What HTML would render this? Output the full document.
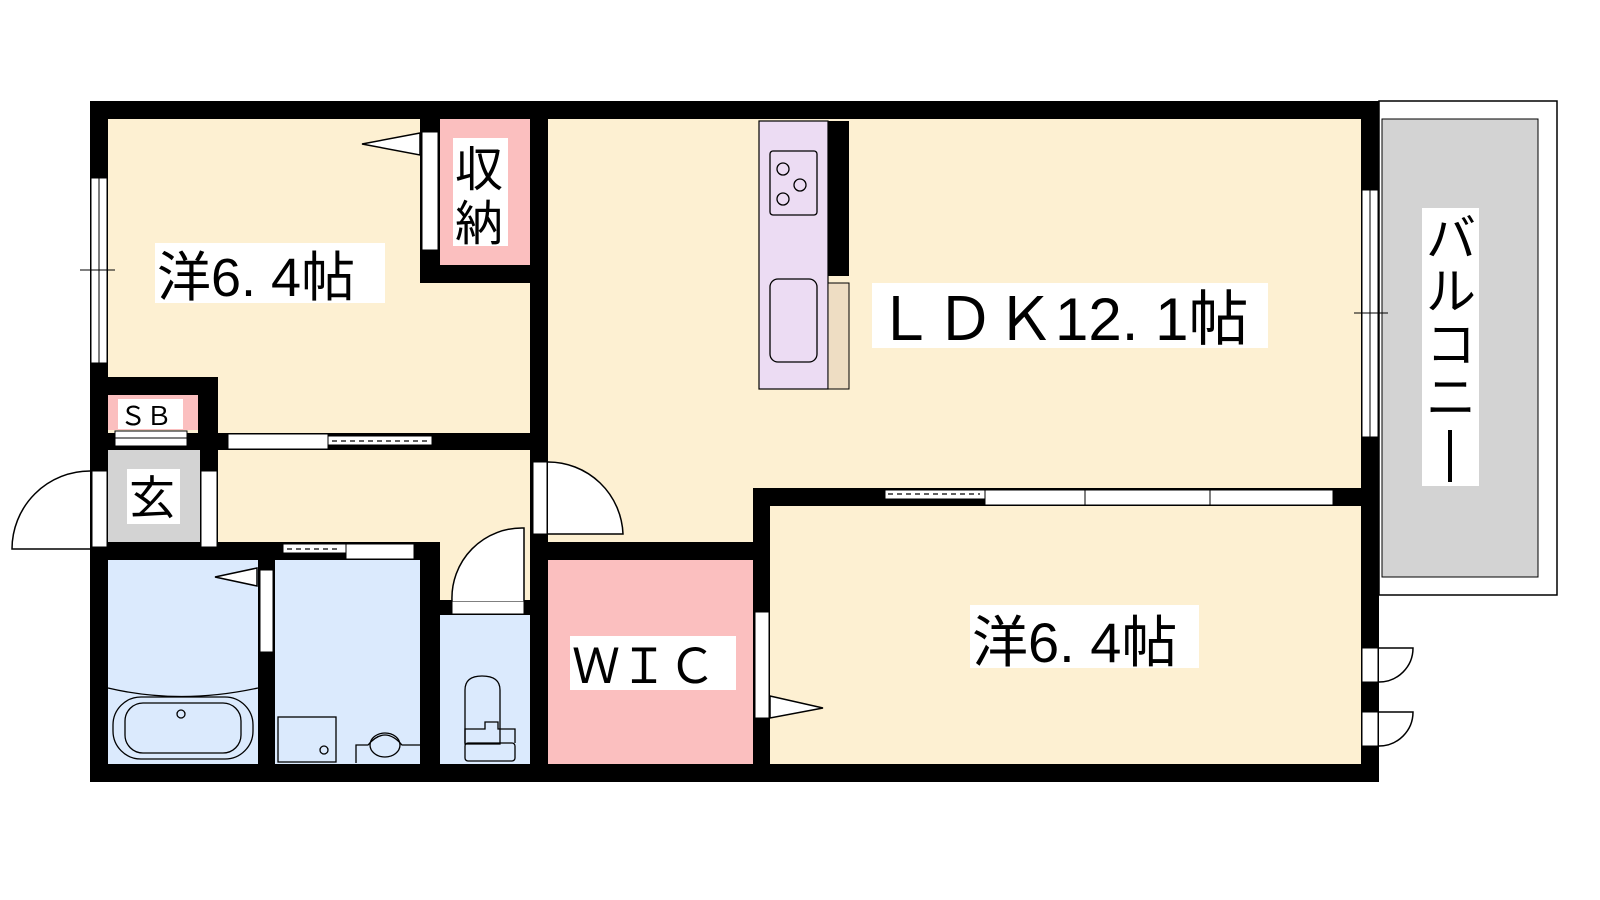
<!DOCTYPE html>
<html><head><meta charset="utf-8"><style>
html,body{margin:0;padding:0;background:#fff;}
svg{display:block;}
text{font-family:"Liberation Sans","Noto Sans CJK JP",sans-serif;fill:#000;}
</style></head><body>
<svg width="1600" height="900" viewBox="0 0 1600 900" xmlns="http://www.w3.org/2000/svg">
<!-- balcony -->
<rect x="1379" y="101" width="178" height="494" fill="#fff" stroke="#000" stroke-width="1.5"/>
<rect x="1382" y="119" width="156" height="458" fill="#d3d3d3" stroke="#000" stroke-width="1"/>
<!-- outer black base -->
<rect x="90" y="101" width="1289" height="681" fill="#000"/>
<!-- rooms -->
<rect x="108" y="119" width="422" height="314" fill="#fdf0d2"/>
<rect x="440" y="119" width="90" height="146" fill="#fbbfbf"/>
<rect x="108" y="395" width="90" height="35" fill="#fbbfbf"/>
<rect x="108" y="450" width="92" height="92" fill="#d3d3d3"/>
<rect x="218" y="450" width="312" height="92" fill="#fdf0d2"/>
<rect x="440" y="540" width="90" height="60" fill="#fdf0d2"/>
<rect x="108" y="560" width="150" height="204" fill="#dbeafd"/>
<rect x="275" y="560" width="145" height="204" fill="#dbeafd"/>
<rect x="440" y="615" width="90" height="149" fill="#dbeafd"/>
<rect x="548" y="119" width="813" height="423" fill="#fdf0d2"/>
<rect x="548" y="119" width="205" height="423" fill="#fdf0d2"/>
<rect x="753" y="119" width="608" height="369" fill="#fdf0d2"/>
<rect x="548" y="560" width="205" height="204" fill="#fbbfbf"/>
<rect x="770" y="506" width="591" height="258" fill="#fdf0d2"/>
<!-- closet walls fill -->
<rect x="420" y="119" width="20" height="164" fill="#000"/>
<rect x="420" y="265" width="110" height="18" fill="#000"/>
<!-- SB wall -->
<rect x="108" y="377" width="110" height="18" fill="#000"/>
<rect x="198" y="377" width="20" height="70" fill="#000"/>
<!-- hall partition -->
<rect x="198" y="433" width="350" height="17" fill="#000"/>
<rect x="200" y="450" width="18" height="92" fill="#000"/>
<rect x="530" y="433" width="18" height="331" fill="#000"/>
<rect x="258" y="560" width="17" height="204" fill="#000"/>
<rect x="420" y="542" width="20" height="222" fill="#000"/>
<rect x="440" y="600" width="90" height="15" fill="#000"/>
<rect x="530" y="542" width="240" height="18" fill="#000"/>
<rect x="753" y="488" width="17" height="276" fill="#000"/>
<rect x="753" y="488" width="608" height="18" fill="#000"/>
<rect x="90" y="542" width="350" height="18" fill="#000"/>
<!-- windows -->
<g fill="#fff" stroke="#000" stroke-width="1">
<rect x="91" y="178" width="16" height="185"/><line x1="99" y1="178" x2="99" y2="363"/>
<line x1="80" y1="270" x2="115" y2="270"/>
<rect x="1362" y="190" width="16" height="247"/><line x1="1370" y1="190" x2="1370" y2="437"/>
<line x1="1354" y1="313" x2="1388" y2="313"/>
<rect x="422" y="132" width="16" height="118"/>
<rect x="228" y="434" width="100" height="15"/><rect x="328" y="436" width="104" height="9"/>
<rect x="115" y="431" width="72" height="15"/><line x1="115" y1="438" x2="187" y2="438"/>
<rect x="92" y="471" width="15" height="76"/>
<rect x="201" y="471" width="16" height="76"/>
<rect x="533" y="462" width="14" height="72"/>
<rect x="283" y="544" width="63" height="9"/><rect x="346" y="544" width="68" height="15"/>
<rect x="452" y="601" width="72" height="13"/>
<rect x="260" y="570" width="13" height="82"/>
<rect x="755" y="612" width="14" height="106"/>
<rect x="885" y="490" width="100" height="9"/><rect x="985" y="490" width="100" height="15"/>
<rect x="1085" y="490" width="125" height="15"/><rect x="1210" y="490" width="123" height="15"/>
<rect x="1362" y="648" width="16" height="34"/><rect x="1362" y="712" width="16" height="34"/>
</g>
<g fill="none" stroke="#000" stroke-width="1.3" stroke-dasharray="5,4">
<line x1="332" y1="441" x2="430" y2="441"/><line x1="287" y1="549" x2="340" y2="549"/><line x1="888" y1="494" x2="980" y2="494"/>
</g>
<!-- doors -->
<g fill="#fff" stroke="#000" stroke-width="1.5">
<path d="M90 471 A78 78 0 0 0 12 549 L90 549"/>
<path d="M548 462 A75 75 0 0 1 623 534 L548 534"/>
<path d="M524 601 L524 528 A70 70 0 0 0 452 601"/>
<path d="M1379 648 L1413 648 A34 34 0 0 1 1379 682"/>
<path d="M1379 712 L1413 712 A34 34 0 0 1 1379 746"/>
<path d="M420 133 L362 144 L420 155 Z"/>
<path d="M257 568 L215 577 L257 586 Z"/>
<path d="M770 696 L823 708 L770 718 Z"/>
</g>
<!-- kitchen -->
<rect x="759" y="121" width="69" height="268" fill="#ecdcf3" stroke="#000" stroke-width="1.2"/>
<rect x="828" y="121" width="21" height="155" fill="#000"/>
<rect x="828" y="283" width="21" height="106" fill="#eeddc3" stroke="#000" stroke-width="1"/>
<g fill="none" stroke="#000" stroke-width="1.3">
<rect x="770" y="151" width="47" height="64" rx="3"/>
<circle cx="783" cy="169" r="6"/><circle cx="800" cy="185" r="6"/><circle cx="783" cy="199" r="6"/>
<rect x="770" y="279" width="47" height="83" rx="8"/>
<!-- bath -->
<path d="M108 688 Q180 705 258 688"/>
<rect x="113" y="697" width="140" height="62" rx="28"/>
<rect x="125" y="703" width="116" height="50" rx="18"/>
<circle cx="181" cy="714" r="4"/>
<rect x="278" y="717" width="58" height="45"/><circle cx="324" cy="750" r="4"/>
<path d="M356 763 L356 745 L368 745 Q385 725 402 745 L420 745"/>
<ellipse cx="385" cy="745" rx="15" ry="12"/>
<path d="M465 744 L465 690 Q465 676 482 676 Q500 676 500 690 L500 744 Z"/>
<rect x="465" y="743" width="50" height="18" rx="3"/>
<path d="M465 743 L465 729 L485 729 L485 722 L498 722 L498 729 L515 729 L515 743"/>
</g>
<!-- labels -->
<rect x="155" y="243" width="230" height="60" fill="#fff"/>
<text x="157" y="296" font-size="54">洋6. 4帖</text>
<rect x="453" y="138" width="55" height="108" fill="#fff"/>
<text x="455" y="186" font-size="48">収</text><text x="455" y="240" font-size="48">納</text>
<rect x="118" y="399" width="65" height="30" fill="#fff"/>
<text x="120" y="425" font-size="26">ＳＢ</text>
<rect x="127" y="469" width="53" height="55" fill="#fff"/>
<text x="129" y="514" font-size="46">玄</text>
<rect x="872" y="283" width="396" height="65" fill="#fff"/>
<text x="875" y="340" font-size="60">ＬＤＫ12. 1帖</text>
<rect x="970" y="605" width="229" height="63" fill="#fff"/>
<text x="972" y="662" font-size="56">洋6. 4帖</text>
<rect x="570" y="636" width="166" height="54" fill="#fff"/>
<text x="572" y="683" font-size="48">ＷＩＣ</text>
<rect x="1422" y="208" width="57" height="278" fill="#fff"/>
<text x="1426" y="256" font-size="50">バ</text>
<text x="1426" y="309" font-size="50">ル</text>
<text x="1426" y="362" font-size="50">コ</text>
<text x="1426" y="415" font-size="50">ニ</text>
<rect x="1448" y="430" width="4" height="52" fill="#000"/>
</svg>
</body></html>
